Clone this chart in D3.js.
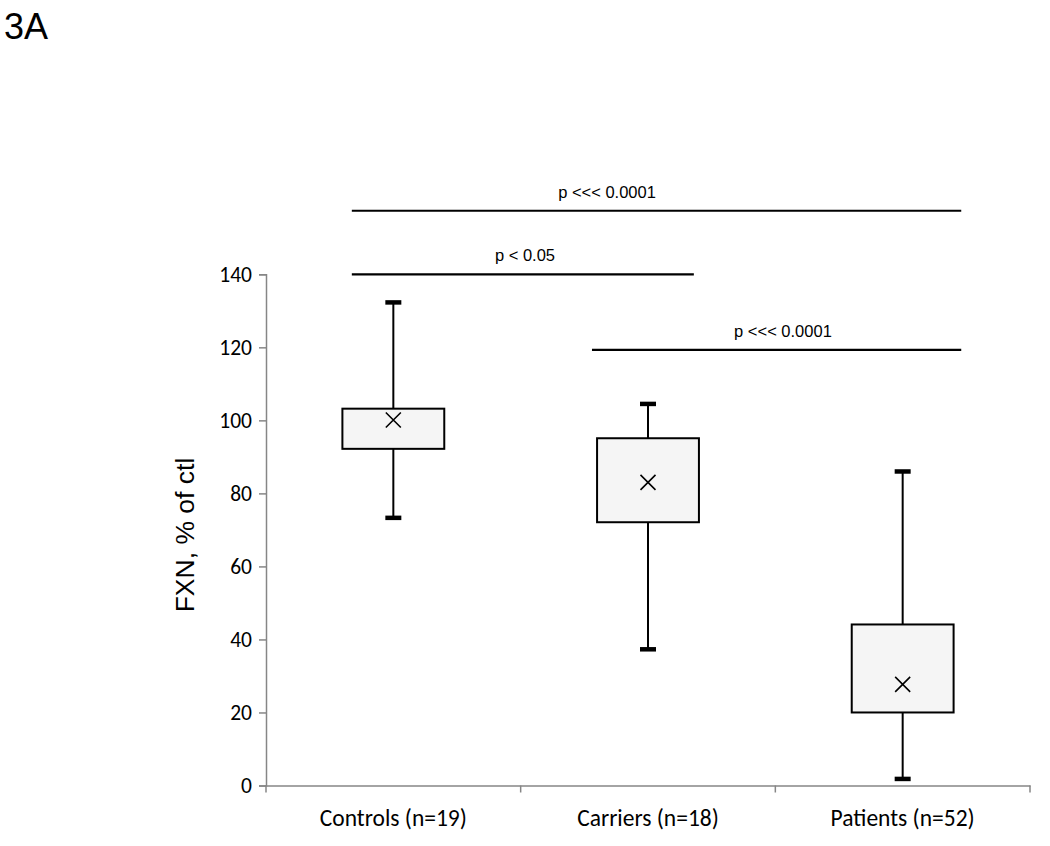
<!DOCTYPE html>
<html>
<head>
<meta charset="utf-8">
<script src="https://cdn.jsdelivr.net/npm/d3@7"></script>
<style>
  html, body { margin: 0; padding: 0; background: #fff; }
  svg { display: block; }
</style>
</head>
<body>
<svg id="chart" width="1050" height="846"></svg>
<script>
// ---- data ----
const categories = ["Controls (n=19)", "Carriers (n=18)", "Patients (n=52)"];
const whiskerLow  = [73.3, 37.3, 1.8];
const q1          = [92.2, 72.1, 20.0];
const q3          = [103.2, 95.1, 44.1];
const whiskerHigh = [132.3, 104.5, 86.0];
const means       = [100.1, 83.0, 27.7];
const yTicks      = [0, 20, 40, 60, 80, 100, 120, 140];
// significance brackets: span in category-index units, level in y units
const sigLabels = ["p <<< 0.0001", "p < 0.05", "p <<< 0.0001"];
const sigFrom   = [-0.163, -0.163, 0.78];
const sigTo     = [2.23, 1.18, 2.23];
const sigLabelAt = [0.839, 0.517, 1.53];
const sigLevel  = [157.4, 140, 119.3];

// ---- layout ----
const svg = d3.select("#chart");
const x0 = 266, x1 = 1030, yTop = 274.3, yBot = 785.5;

const x = d3.scaleBand().domain(categories).range([x0, x1]).padding(0);
const y = d3.scaleLinear().domain([0, 140]).range([yBot, yTop]);
const xi = d3.scaleLinear().domain([0, 2])
  .range([x(categories[0]) + x.bandwidth() / 2, x(categories[2]) + x.bandwidth() / 2]);

const tickFont = "Carlito, Lato, 'Open Sans', sans-serif";
const axisColor = "#868686";

// y axis
const yAxis = svg.append("g").attr("transform", `translate(${x0},0)`)
  .call(d3.axisLeft(y).tickValues(yTicks).tickSizeOuter(0).tickSize(7).tickPadding(7));
yAxis.select(".domain").attr("stroke", axisColor).attr("stroke-width", 1.5);
yAxis.selectAll(".tick line").attr("stroke", axisColor).attr("stroke-width", 1.5);
yAxis.selectAll(".tick text").attr("fill", "#000").style("font-family", tickFont).style("font-size", "21.5px");

// x axis
const xAxis = svg.append("g").attr("transform", `translate(0,${yBot})`)
  .call(d3.axisBottom(x).tickSize(0).tickSizeOuter(0).tickPadding(24));
xAxis.select(".domain").attr("stroke", axisColor).attr("stroke-width", 1.5);
xAxis.selectAll(".tick text").attr("fill", "#000").style("font-family", tickFont).style("font-size", "23.5px");
// x axis boundary ticks
const bounds = [x0].concat(categories.map(c => x(c) + x.bandwidth()));
svg.append("g").selectAll("line").data(bounds).join("line")
  .attr("x1", d => d).attr("x2", d => d)
  .attr("y1", yBot).attr("y2", yBot + 7)
  .attr("stroke", axisColor).attr("stroke-width", 1.5);

// boxes
const bw = x.bandwidth() * 0.4;
const cx = i => x(categories[i]) + x.bandwidth() / 2;
const g = svg.append("g");
categories.forEach((c, i) => {
  g.append("line").attr("x1", cx(i)).attr("x2", cx(i))
    .attr("y1", y(whiskerHigh[i])).attr("y2", y(q3[i]))
    .attr("stroke", "#000").attr("stroke-width", 2);
  g.append("line").attr("x1", cx(i)).attr("x2", cx(i))
    .attr("y1", y(q1[i])).attr("y2", y(whiskerLow[i]))
    .attr("stroke", "#000").attr("stroke-width", 2);
  [whiskerHigh[i], whiskerLow[i]].forEach(v => {
    g.append("line").attr("x1", cx(i) - 8).attr("x2", cx(i) + 8)
      .attr("y1", y(v)).attr("y2", y(v))
      .attr("stroke", "#000").attr("stroke-width", 4.5);
  });
  g.append("rect").attr("x", cx(i) - bw / 2).attr("width", bw)
    .attr("y", y(q3[i])).attr("height", y(q1[i]) - y(q3[i]))
    .attr("fill", "#f5f5f5").attr("stroke", "#000").attr("stroke-width", 2);
  const m = y(means[i]), s = 7.5;
  g.append("path")
    .attr("d", `M${cx(i) - s},${m - s}L${cx(i) + s},${m + s}M${cx(i) - s},${m + s}L${cx(i) + s},${m - s}`)
    .attr("stroke", "#000").attr("stroke-width", 1.6).attr("fill", "none");
});

// significance lines
const sg = svg.append("g");
sigLabels.forEach((lab, i) => {
  const a = xi(sigFrom[i]), b = xi(sigTo[i]), yy = y(sigLevel[i]);
  sg.append("line").attr("x1", a).attr("x2", b).attr("y1", yy).attr("y2", yy)
    .attr("stroke", "#000").attr("stroke-width", 2.2);
  sg.append("text").attr("x", xi(sigLabelAt[i])).attr("y", yy - 13)
    .attr("text-anchor", "middle")
    .style("font-family", "'Liberation Sans', Arial, sans-serif").style("font-size", "16.5px")
    .text(lab);
});

// y title
svg.append("text")
  .attr("transform", `translate(194,535) rotate(-90)`)
  .attr("text-anchor", "middle")
  .style("font-family", "'Liberation Sans', Arial, sans-serif").style("font-size", "26.5px")
  .text("FXN, % of ctl");

// panel label
svg.append("text").attr("x", 4).attr("y", 39)
  .style("font-family", "'Liberation Sans', Arial, sans-serif").style("font-size", "36px")
  .text("3A");
</script>
</body>
</html>
